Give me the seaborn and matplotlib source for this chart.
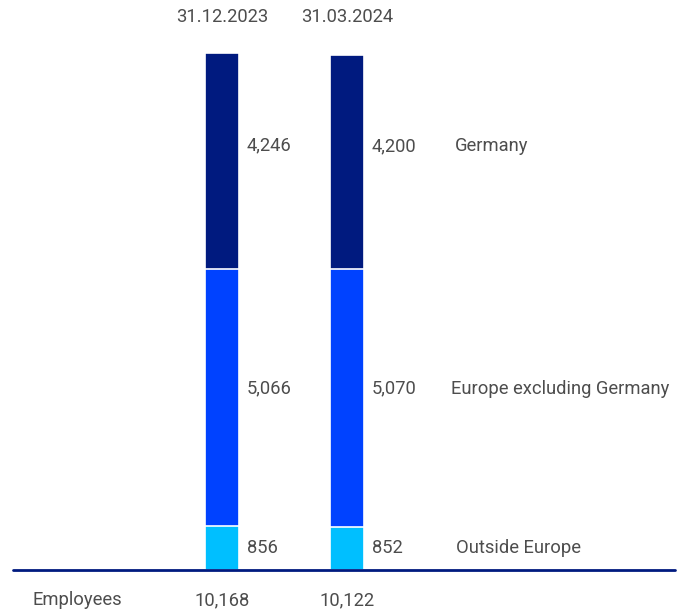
import pandas as pd
import matplotlib.pyplot as plt
import seaborn as sns

# Data
dates = ["31.12.2023", "31.03.2024"]
regions = ["Outside Europe", "Europe excluding Germany", "Germany"]
outside_europe = [856, 852]
europe_ex_germany = [5066, 5070]
germany = [4246, 4200]
totals = [10168, 10122]
colors = {"Germany": "#001A7F", "Europe excluding Germany": "#0042FF", "Outside Europe": "#00BFFF"}

# label placement tweaks (pixels), bottom to top
label_dy = [0, 9, 16]
name_x = [456, 451, 455]

text_color = "#4d4d4d"

sns.set_theme(style="white")
plt.rcParams['font.family'] = ['Roboto', 'DejaVu Sans']

df = pd.DataFrame({
    "date": dates,
    "Outside Europe": outside_europe,
    "Europe excluding Germany": europe_ex_germany,
    "Germany": germany,
})

W, H = 682, 612
fig = plt.figure(figsize=(W / 100, H / 100), dpi=100)
ax = fig.add_axes([0, 0, 1, 1])

# pixel mapping: bar centres at 222 / 347 px, baseline at 570 px from top
px_per_x = 125
x0_px = 222
base_px = 570
px_per_unit = 517 / 10168

# Stacked bars: draw cumulative layers from the top down
cum = df[regions].cumsum(axis=1)
for reg in reversed(regions):
    sns.barplot(x=list(range(len(dates))), y=cum[reg].values, color=colors[reg],
                width=0.27, edgecolor="white", linewidth=1.2, saturation=1,
                native_scale=True, ax=ax)

ax.set_xlim(-x0_px / px_per_x, (W - x0_px) / px_per_x)
ax.set_ylim(-(H - base_px) / px_per_unit, base_px / px_per_unit)
ax.axis("off")

ax.axhline(0, xmin=13 / W, xmax=675 / W, color="#001A7F", linewidth=2)

fs = 13.2
# value labels beside each segment
for i in range(len(dates)):
    bottom = 0
    for k, reg in enumerate(regions):
        v = df[reg][i]
        ax.annotate(f"{v:,}", (i + 0.2, bottom + v / 2), xytext=(0, label_dy[k]),
                    textcoords="offset pixels", ha="left", va="center",
                    fontsize=fs, color=text_color)
        bottom += v
    # date on top, total at the bottom
    ax.text(i, 1 - 17 / H, dates[i], transform=ax.get_xaxis_transform(),
            ha="center", va="center", fontsize=fs, color=text_color)
    ax.text(i, 1 - 600 / H, f"{totals[i]:,}", transform=ax.get_xaxis_transform(),
            ha="center", va="center", fontsize=fs, color=text_color)

# region names, next to the second bar
bottom = 0
for k, reg in enumerate(regions):
    v = df[reg][1]
    ax.annotate(reg, ((name_x[k] - x0_px) / px_per_x, bottom + v / 2), xytext=(0, label_dy[k]),
                textcoords="offset pixels", ha="left", va="center",
                fontsize=fs, color=text_color)
    bottom += v

ax.text(33 / W, 1 - 600 / H, "Employees", transform=ax.transAxes,
        ha="left", va="center", fontsize=fs, color=text_color)

fig.savefig("out.png", dpi=100)
